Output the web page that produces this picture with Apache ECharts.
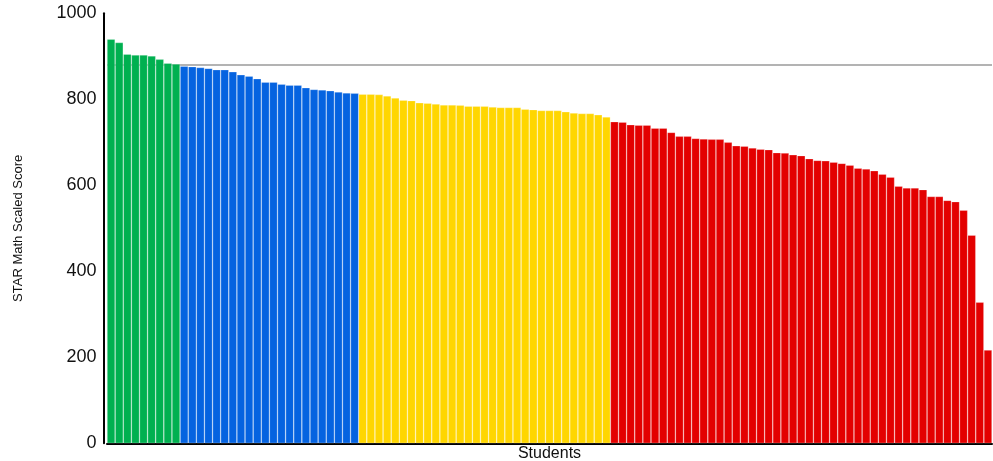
<!DOCTYPE html>
<html>
<head>
<meta charset="utf-8">
<script src="https://cdn.jsdelivr.net/npm/echarts@6/dist/echarts.min.js"></script>
<style>
  html, body { margin: 0; padding: 0; background: #fff; }
  #chart { width: 993px; height: 461px; }
</style>
</head>
<body>
<div id="chart"></div>
<script>
// Scores per student, grouped by performance band (sorted high to low)
const greenScores = [940, 932, 905, 903, 903, 901, 893, 884, 882];
const blueScores = [877, 876, 874, 872, 869, 869, 864, 857, 854, 848, 840, 840, 835, 833, 833, 827, 823, 822, 820, 817, 815, 814];
const yellowScores = [812, 812, 811, 808, 803, 798, 797, 792, 791, 789, 787, 787, 786, 784, 784, 784, 782, 781, 781, 781, 777, 776, 774, 774, 774, 771, 768, 767, 767, 764, 759];
const redScores = [748, 747, 741, 740, 740, 733, 733, 723, 714, 714, 709, 708, 707, 707, 700, 692, 691, 687, 684, 683, 676, 675, 671, 669, 662, 658, 657, 654, 651, 647, 640, 638, 634, 626, 619, 598, 594, 594, 590, 574, 574, 565, 562, 542, 484, 328, 217];
const benchmark = 880;
const yTicks = [0, 200, 400, 600, 800, 1000];

const bands = [
  { scores: greenScores, color: '#00b050' },
  { scores: blueScores, color: '#0563e0' },
  { scores: yellowScores, color: '#ffd600' },
  { scores: redScores, color: '#e30000' }
];

const barData = [];
bands.forEach(b => {
  b.scores.forEach(v => barData.push({ value: v, itemStyle: { color: b.color } }));
});
const students = barData.map((d, i) => 'S' + (i + 1));

const chart = echarts.init(document.getElementById('chart'), null, { renderer: 'canvas' });
chart.setOption({
  animation: false,
  backgroundColor: '#ffffff',
  grid: { left: 107, right: 1, top: 13.3, bottom: 17.7, containLabel: false, outerBoundsMode: 'none' },
  xAxis: {
    type: 'category',
    data: students,
    name: 'Students',
    nameLocation: 'middle',
    nameGap: 2,
    nameTextStyle: { fontFamily: 'Liberation Sans', fontSize: 16, color: '#111' },
    axisLine: { show: true, lineStyle: { color: '#000', width: 2 } },
    axisTick: { show: false },
    axisLabel: { show: false },
    splitLine: { show: false }
  },
  yAxis: {
    type: 'value',
    min: yTicks[0],
    max: yTicks[yTicks.length - 1],
    interval: 200,
    offset: 3.5,
    name: 'STAR Math Scaled Score',
    nameLocation: 'middle',
    nameGap: 79,
    nameRotate: 90,
    nameTextStyle: { fontFamily: 'Liberation Sans', fontSize: 13, color: '#111' },
    axisLine: { show: true, lineStyle: { color: '#000', width: 2 } },
    axisTick: { show: false },
    axisLabel: {
      fontFamily: 'Liberation Sans', fontSize: 18, color: '#111', margin: 7,
      formatter: v => String(v)
    },
    splitLine: { show: false }
  },
  series: [
    {
      type: 'line',
      data: [],
      silent: true,
      z: 1,
      markLine: {
        z: 1,
        silent: true,
        symbol: 'none',
        label: { show: false },
        lineStyle: { color: '#9a9a9a', width: 1.5, type: 'solid' },
        data: [{ yAxis: benchmark }]
      }
    },
    {
      type: 'bar',
      z: 2,
      data: barData,
      barCategoryGap: 0,
      itemStyle: { borderColor: 'rgba(255,255,255,0.4)', borderWidth: 0.6 }
    }
  ]
});
</script>
</body>
</html>
